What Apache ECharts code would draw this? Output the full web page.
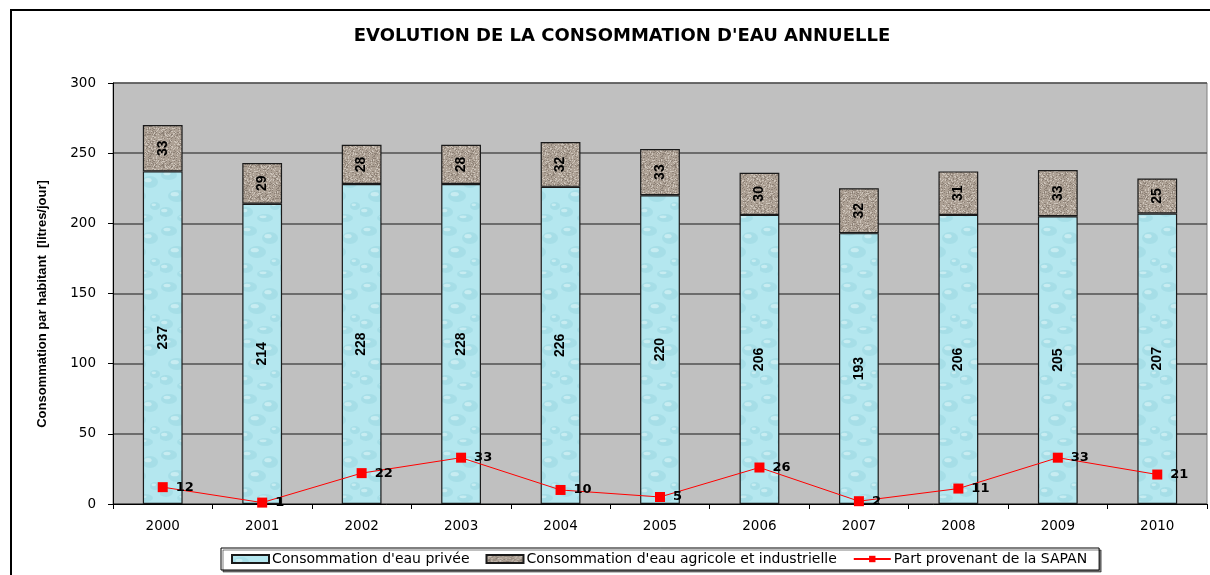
<!DOCTYPE html>
<html><head><meta charset="utf-8">
<script src="https://cdn.jsdelivr.net/npm/echarts@6/dist/echarts.min.js"></script>
<style>html,body{margin:0;padding:0;background:#fff}#c{width:1210px;height:575px}</style>
</head><body><div id="c"></div>
<script>
const years = ['2000','2001','2002','2003','2004','2005','2006','2007','2008','2009','2010'];
const privee = [237,214,228,228,226,220,206,193,206,205,207];
const agricole = [33,29,28,28,32,33,30,32,31,33,25];
const sapan = [12,1,22,33,10,5,26,2,11,33,21];
const yTicks = [0,50,100,150,200,250,300];

function hash(x,y){let h=(x*374761393+y*668265263)|0;h=(h^(h>>>13))*1274126177|0;return ((h^(h>>>16))>>>0)/4294967295;}
function makeWater(){
  const c=document.createElement('canvas');c.width=40;c.height=56;const g=c.getContext('2d');
  g.fillStyle='#b4e7ef';g.fillRect(0,0,40,56);
  const drops=[[9,7,8,5],[30,14,8,6],[17,28,9,6],[35,38,5,4],[6,44,7,5],[25,50,8,4]];
  drops.forEach(d=>{g.fillStyle='rgba(140,205,218,0.35)';g.beginPath();g.ellipse(d[0],d[1],d[2],d[3],0,0,Math.PI*2);g.fill();
    g.fillStyle='rgba(225,248,250,0.55)';g.beginPath();g.ellipse(d[0]-d[2]*0.25,d[1]-d[3]*0.3,d[2]*0.45,d[3]*0.35,0,0,Math.PI*2);g.fill();});
  return c;
}
function makeStone(){
  const c=document.createElement('canvas');c.width=32;c.height=32;const g=c.getContext('2d');
  g.fillStyle='#ada195';g.fillRect(0,0,32,32);
  for(let y=0;y<32;y++)for(let x=0;x<32;x++){const h=hash(x,y);
    if(h<0.18){g.fillStyle='#8d8176';g.fillRect(x,y,1,1);} else if(h>0.84){g.fillStyle='#cdc4ba';g.fillRect(x,y,1,1);} }
  return c;
}
const water={image:makeWater(),repeat:'repeat'};
const stone={image:makeStone(),repeat:'repeat'};
const wide='"DejaVu Sans",Verdana,sans-serif';
const narrow='"Liberation Sans Narrow","Arial Narrow","Liberation Sans",Arial,sans-serif';

const chart=echarts.init(document.getElementById('c'));
chart.setOption({
  animation:false,
  backgroundColor:'#fff',
  graphic:[
    {type:'rect',shape:{x:11,y:10,width:1220,height:600},style:{fill:'none',stroke:'#000',lineWidth:2},silent:true,z:-1},
    {type:'text',x:42,y:304,rotation:Math.PI/2,silent:true,
      style:{text:'Consommation par habitant  [litres/jour]',textAlign:'center',textVerticalAlign:'middle',
        font:'bold 13px '+narrow,fill:'#000'}}
  ],
  title:{text:"EVOLUTION DE LA CONSOMMATION D'EAU ANNUELLE",left:617,textAlign:'center',top:22,
    textStyle:{fontFamily:wide,fontWeight:'bold',fontSize:18,color:'#000'}},
  grid:{left:113,top:83,right:3,bottom:71,show:true,backgroundColor:'#c0c0c0',borderColor:'#808080',borderWidth:1},
  legend:{left:221,top:548,itemGap:16,padding:[4,12,4,10],borderColor:'#000',borderWidth:1,backgroundColor:'#fff',
    shadowColor:'rgba(0,0,0,0.5)',shadowOffsetX:2,shadowOffsetY:2,shadowBlur:0,
    itemWidth:37,itemHeight:8,
    textStyle:{fontFamily:wide,fontSize:14,color:'#000',padding:[0,0,0,-2]},
    data:[{name:"Consommation d'eau privée",icon:'rect'},{name:"Consommation d'eau agricole et industrielle",icon:'rect'},{name:'Part provenant de la SAPAN'}]},
  xAxis:{type:'category',data:years,
    axisLine:{lineStyle:{color:'#000',width:1}},
    axisTick:{show:true,length:5,lineStyle:{color:'#000'}},
    axisLabel:{fontFamily:wide,fontSize:13.5,color:'#000',margin:15},
    splitLine:{show:false}},
  yAxis:{type:'value',min:0,max:300,interval:50,
    axisLine:{show:true,lineStyle:{color:'#000',width:1}},
    axisTick:{show:true,length:5,lineStyle:{color:'#000'}},
    axisLabel:{fontFamily:wide,fontSize:13.5,color:'#000',margin:17,
      formatter:v=>yTicks.includes(v)?String(v):''},
    splitLine:{lineStyle:{color:'#505050',width:1.5}}},
  series:[
    {name:"Consommation d'eau privée",type:'bar',stack:'a',data:privee,barWidth:'40%',
      itemStyle:{color:water,borderColor:'#1a1a1a',borderWidth:1.2},
      label:{show:true,position:'inside',rotate:90,fontFamily:narrow,fontWeight:'bold',fontSize:14,color:'#000'}},
    {name:"Consommation d'eau agricole et industrielle",type:'bar',stack:'a',data:agricole,barWidth:'40%',
      itemStyle:{color:stone,borderColor:'#1a1a1a',borderWidth:1.2},
      label:{show:true,position:'inside',rotate:90,fontFamily:narrow,fontWeight:'bold',fontSize:14,color:'#000'}},
    {name:'Part provenant de la SAPAN',type:'line',data:sapan,symbol:'rect',symbolSize:10,
      lineStyle:{color:'#ff0000',width:1},itemStyle:{color:'#ff0000'},z:5,
      label:{show:true,position:'right',distance:8,fontFamily:wide,fontWeight:'bold',fontSize:13,color:'#000'}}
  ]
});
</script></body></html>
